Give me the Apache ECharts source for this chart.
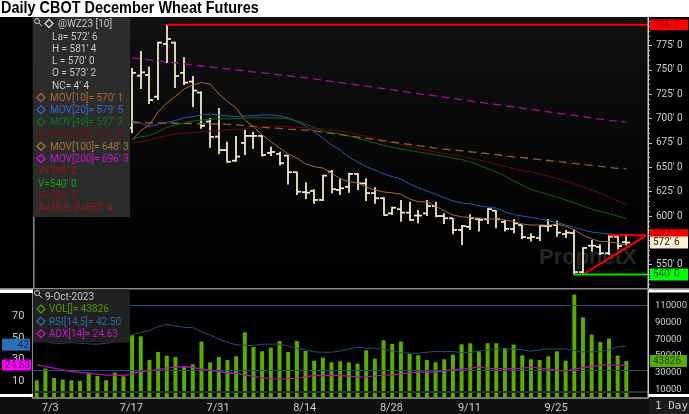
<!DOCTYPE html>
<html>
<head>
<meta charset="utf-8">
<script src="https://cdn.jsdelivr.net/npm/echarts@6/dist/echarts.min.js"></script>
<style>
*{margin:0;padding:0}
html,body{background:#000}
#main{width:689px;height:414px}
</style>
</head>
<body>
<div id="main"></div>
<script>
var dates = ['7/3','7/5','7/6','7/7','7/10','7/11','7/12','7/13','7/14',
  '7/17','7/18','7/19','7/20','7/21','7/24','7/25','7/26','7/27','7/28',
  '7/31','8/1','8/2','8/3','8/4','8/7','8/8','8/9','8/10','8/11',
  '8/14','8/15','8/16','8/17','8/18','8/21','8/22','8/23','8/24','8/25',
  '8/28','8/29','8/30','8/31','9/1','9/5','9/6','9/7','9/8',
  '9/11','9/12','9/13','9/14','9/15','9/18','9/19','9/20','9/21','9/22',
  '9/25','9/26','9/27','9/28','9/29','10/2','10/3','10/4','10/5','10/6','10/9'];
var dateTicks = ['7/3','7/17','7/31','8/14','8/28','9/11','9/25'];

// price bars, the first 11 sessions sit behind the study panel and cannot be read
var opens = [690.5,744,744.75,722.5,776.75,778,747,738,726.75,697,681.5,667.75,656.75,675,682.25,682.25,664.75,663.75,662,645,
  624.5,625.75,616.5,645.5,626.75,630,643.25,633.5,623.5,618.25,602.75,607,603.5,600.5,602.75,610.25,600,597.75,585.75,589,
  597,596.75,605.5,594,586.75,590.75,577.5,577.5,589.75,590.75,581.5,582.5,542.5,569.5,568.25,561.75,578.75,573.25];
var highs = [752,769.5,753.5,779,796.25,779,763,743.75,727.75,700.75,711,676.25,682.25,688.5,686.5,683.25,671,666,662.75,645.5,
  634.75,627.5,642.25,647.25,638.75,644.5,644,638.75,629.5,619.25,609.5,616.5,614.75,606.25,616.5,614.75,602.75,597.75,590.75,601.75,
  597.75,608,606.25,596,597,590.75,582.25,590.75,597,595.25,585.75,586.5,568,575.5,571,580.5,580.5,581.5];
var lows = [685.25,730.5,715,719,757,731.5,734.5,712,689.5,670,663.75,654.75,655.75,662.75,669,661,661.75,651.75,632.5,621.5,
  617.5,612.5,615.5,623.5,621.5,624,626.75,615.5,612.5,600.5,601,594.25,595.25,592.5,600,598.75,591.75,581.25,570.25,585.75,
  584,591.75,587.5,584,582.25,576.5,573.75,574.5,584,578.75,577.5,540,540.5,563.5,560,560,566,570];
var closes = [747,747.5,719,778,781.75,743.75,737,728.75,692.5,681.25,667.75,655.75,661,682.25,682.25,662.75,665.75,654.25,645,625,
  624,616.5,641.5,627.5,628.5,643.25,633.5,623.5,618.25,601,608.5,603.5,596,600.5,610.25,600,597.75,585.75,589.75,597.75,
  596,607,596.75,586.75,592.5,578.5,578.5,590,589.75,583,583,542.5,567.25,569.5,561.75,578.75,569.25,572.75];

var mov10 = [678,687.75,693.5,707,716,723,730.5,734.5,737,735.5,725.25,717.5,711,698.5,691.75,683.25,676.25,670,663.75,659.5,
  653.5,650.75,649.25,644.25,638,635.25,634,629.75,626.75,624.75,623.75,622.5,617.5,614.75,614.5,610.25,605.25,601,599.25,598.25,
  598,597,597,596,594.25,591.75,590.75,590.75,590.75,591.75,589.75,585.75,580.5,576.5,573.75,573.75,572.25,570.1];
var mov20 = [698,695.5,691.75,694.5,696,698,700.75,702,703.75,704.5,703.5,702.75,702,702.75,703,703.75,703.75,702.75,700.75,697,
  692.5,686.5,680,673,667.75,660.5,655.5,650.75,647.25,643.25,640.5,638,633,629,625.75,622.5,618.75,615.5,613.5,612.5,
  610.5,609.25,608.25,604.25,601.5,600,598.5,597,595,593.5,590.75,588.25,585.75,583.5,582.5,581.5,580.5,579.6];
var mov40 = [678.75,681.5,682.5,686.5,691,693.5,695.25,697.5,698.5,699.25,699.75,699.75,700,700.5,700.75,701,700.75,700.5,699.75,697.5,
  694.5,691,687.25,685.75,684.25,682.25,680,677.5,675,672.5,670.5,669,667.25,665.75,664.25,662.75,661.25,659.5,658,655.5,
  652.5,648.75,645.25,641,636,631.5,627.25,624.75,622,619.5,616.5,613.5,610.25,607.25,604.75,602.5,600,597.25];
var mov50 = [675.25,676.25,678,681,682.5,684.25,685,685.5,686.25,687.25,687.5,688.5,689,689.75,690.75,691,691.75,691.75,691.75,691,
  690.75,690,689.5,688.5,687.25,685.75,683.75,681.75,679.5,677.5,675.5,673.5,671.5,669.5,667.25,665.75,664.25,662.75,661.25,659,
  657.5,655.5,653,651,648.75,646.75,645.25,643.25,641,638.5,636,633,629.75,626.75,623.75,619.5,615.5,611.75];
var mov100 = [695.75,695.75,695.5,695.5,695.25,695.25,695,695,694.75,694.5,694.5,694,693.5,692.75,692,691.25,690.5,690,689.25,688.75,
  688.25,687.75,686,684.75,683.5,682.25,681,679.75,678.5,677.25,676,674.75,673.5,672.25,671,669.75,668.75,667.75,667,666,
  665,664,663,661.75,660.75,660,659,658,657,656,655,654,653,652,651,649.75,649,648.375];
var mov200 = [762.25,761.25,760.25,759.25,758.25,757.25,756.25,755,754,753,752,751,750,749,748,747,746,745,744,743,
  742,740.75,739.5,738.25,737,735.75,734.5,733.25,732,730.75,729.5,728.25,727,725.75,724.5,723.25,722,720.75,719.5,718.25,
  717,715.75,714.5,713.25,712,710.75,709.5,708.25,707,705.75,704.5,703.25,702,700.75,699.5,698.25,697.25,696.375];

var volume = [20800,34800,23600,21600,20800,20000,30000,26000,20800,30000,25600,74800,73600,45200,54800,50400,48800,37600,40000,67200,
  42400,48800,45200,49600,78400,60800,55600,60000,68000,54800,68000,56000,44400,48000,42400,43600,42400,40800,56800,46800,
  68800,64400,67200,52400,50800,45200,42400,46000,51600,64000,65200,55600,65200,65200,59600,63600,50800,46000,45200,49600,
  55600,44400,123600,96400,75600,66800,70800,50400,43826];
var rsi = [48.3,46.7,45.2,45.2,45.8,45.2,44.6,44.3,45.2,46.7,46.7,52.9,55.3,56.6,60.6,62.7,61.2,59.9,59.6,55.9,
  52.9,48.9,46.1,43.7,43.3,43,44.3,44.3,44.3,42.7,40.6,39,37.2,36.9,36.9,38.1,40,41.5,40.6,40.6,
  39.4,38.1,36.6,36,36,36.9,37.5,37.5,37.5,36.6,36.6,38.1,39,40,40,40,39,37.8,39,40,
  39.7,40,38.4,37.2,37.2,37.5,39,41.8,42.5];
var adx = [25.2,23.7,22.2,20.6,19.1,18.2,17.5,16.6,15.7,15.7,15.4,16.9,19.1,19.7,20.9,22.2,23.1,23.7,22.8,21.2,
  20.3,19.1,17.5,17.5,16,14.5,13.2,12.6,12.3,12.3,12.9,14.2,15.4,15.4,15.4,15.4,14.8,13.9,14.2,14.8,
  15.7,16,16.9,17.8,18.5,18.5,18.5,20,20.6,21.2,22.2,23.1,22.2,21.8,21.8,21.8,22.2,23.1,22.2,21.2,
  20.3,19.4,21.2,22.8,23.7,24.9,24.9,24.9,24.63];

// drawn study lines, [session index, price]
var highLine = [[15,796.25],[70.5,796.25]];
var lowLine = [[62,540],[70.5,540]];
var channelTop = [[66,580.25],[70.3,580.25]];
var channelSide = [[63,540],[70.3,580.25]];

var titleText = 'Daily CBOT December Wheat Futures';
var quoteRows = ["La= 572' 6","H = 581' 4","L = 570' 0","O = 573' 2","NC= 4' 4"];
var movRows = [
  ["MOV[10]= 570' 1",'#a9683a'],
  ["MOV[20]= 579' 5",'#3a64c8'],
  ["MOV[40]= 597' 2",'#10761a'],
  ["MOV[50]= 611' 6",'#701010'],
  ["MOV[100]= 648' 3",'#a9743a'],
  ["MOV[200]= 696' 3",'#d010d0']
];
var lineRows = [
  ["V=796' 2",'#a01212'],
  ["V=540' 0",'#12a012'],
  ["V=580' 2",'#8a1212'],
  ["A=30.5, V=567' 4",'#a01212']
];
var studyRows = [
  ['VOL[]= 43826','#4f9a08'],
  ['RSI[14,5]= 42.50','#2a6aa8'],
  ['ADX[14]= 24.63','#d010d0']
];

var FONT = '11.5px Roboto, sans-serif';
var BAR_COLOR = '#f2e9c9';

function pad(arr) {
  return Array(dates.length - arr.length).fill(null).concat(arr);
}

var barData = [];
pad(opens).forEach(function (o, i) {
  if (o !== null) barData.push([i, o, pad(highs)[i], pad(lows)[i], pad(closes)[i]]);
});

function renderBar(params, api) {
  var x = Math.round(api.coord([api.value(0), 0])[0]);
  var o = api.coord([0, api.value(1)])[1];
  var h = api.coord([0, api.value(2)])[1];
  var l = api.coord([0, api.value(3)])[1];
  var c = api.coord([0, api.value(4)])[1];
  var st = { stroke: BAR_COLOR, lineWidth: 1.8 };
  return {
    type: 'group',
    children: [
      { type: 'line', shape: { x1: x, y1: h, x2: x, y2: l }, style: st },
      { type: 'line', shape: { x1: x - 4, y1: o, x2: x, y2: o }, style: st },
      { type: 'line', shape: { x1: x, y1: c, x2: x + 4, y2: c }, style: st }
    ]
  };
}

function ma(name, data, color, dashed) {
  return {
    name: name, type: 'line', xAxisIndex: 0, yAxisIndex: 0, data: pad(data),
    showSymbol: false, silent: true, z: 4,
    lineStyle: { color: color, width: dashed ? 1.3 : 1, type: dashed ? [8, 5] : 'solid' }
  };
}

function drawn(data, color) {
  return {
    type: 'line', xAxisIndex: 1, yAxisIndex: 0, data: data, showSymbol: false, silent: true, z: 6,
    lineStyle: { color: color, width: 2 }
  };
}

function txt(x, y, s, color) {
  return {
    type: 'text', x: x, y: y, z: 40, scaleX: 0.87,
    style: { text: s, fill: color, font: FONT, verticalAlign: 'middle' }
  };
}

function diamond(x, y, color) {
  return {
    type: 'polygon', z: 40,
    shape: { points: [[x - 4, y], [x, y - 4], [x + 4, y], [x, y + 4]] },
    style: { fill: 'none', stroke: color, lineWidth: 1.3 }
  };
}

function lens(x, y) {
  return [
    { type: 'circle', z: 40, shape: { cx: x, cy: y, r: 2.5 }, style: { fill: 'none', stroke: '#ccc', lineWidth: 1 } },
    { type: 'line', z: 40, shape: { x1: x + 2, y1: y + 2, x2: x + 5, y2: y + 5 }, style: { stroke: '#ccc', lineWidth: 1 } }
  ];
}

function rect(x, y, w, h, fill, z, opacity) {
  return { type: 'rect', z: z, shape: { x: x, y: y, width: w, height: h }, style: { fill: fill, opacity: opacity === undefined ? 1 : opacity } };
}

function buildPanels() {
  var g = [];
  g.push({
    type: 'rect', z: -10, shape: { x: 32, y: 17, width: 616, height: 272 },
    style: { fill: new echarts.graphic.LinearGradient(0, 0, 0, 1, [{ offset: 0, color: '#111111' }, { offset: 0.6, color: '#050505' }, { offset: 1, color: '#000000' }]) }
  });
  g.push(rect(0, 0, 689, 17, '#ffffff', 50));
  g.push({
    type: 'text', x: 1, y: 8, z: 51, scaleX: 0.85,
    style: { text: titleText, fill: '#000', font: 'bold 17px "Liberation Sans", sans-serif', verticalAlign: 'middle' }
  });

  // frame lines
  g.push(rect(33, 217, 1.5, 72, '#8a8a8a', 30));
  g.push(rect(647.5, 17, 1.5, 380, '#c8c8c8', 30));
  g.push(rect(0, 288, 689, 1.5, '#8a8a8a', 30));
  g.push(rect(0, 289.5, 33, 3.5, '#ffffff', 30));
  g.push(rect(649, 289.5, 40, 3, '#ffffff', 30));
  g.push(rect(0, 394, 33, 3, '#ffffff', 30));
  g.push(rect(649, 394, 40, 3, '#ffffff', 30));
  g.push(rect(0, 397, 689, 17, '#0f0f0f', -5));
  g.push(rect(649, 398, 40, 16, '#1c1c1c', 30));
  g.push({
    type: 'text', x: 655, y: 406, z: 40,
    style: { text: '1 Day', fill: '#ccc', font: '11px "DejaVu Sans Mono", monospace', verticalAlign: 'middle' }
  });

  // watermark
  g.push({
    type: 'text', x: 539, y: 258, z: 1,
    style: { text: 'ProphetX', fill: '#262626', font: 'bold 22px "Liberation Sans", sans-serif', verticalAlign: 'middle' }
  });
  g.push({
    type: 'text', x: 590, y: 271, z: 1,
    style: { text: 'Powered by DTN', fill: '#262626', font: '6px "Liberation Sans", sans-serif', verticalAlign: 'middle' }
  });

  // upper study panel
  g.push(rect(33, 17, 97, 200, '#2c2c2c', 35));
  g = g.concat(lens(37, 21));
  g.push(diamond(49, 23.5, '#d8d8d8'));
  g.push(txt(58, 24, '@WZ23 [10]', '#c8c8c8'));
  quoteRows.forEach(function (s, i) {
    g.push(txt(52, 37 + i * 12.2, s, '#c8c8c8'));
  });
  movRows.forEach(function (r, i) {
    g.push(diamond(41, 97.5 + i * 12.2, r[1]));
    g.push(txt(50, 98 + i * 12.2, r[0], r[1]));
  });
  lineRows.forEach(function (r, i) {
    g.push(txt(38, 171.5 + i * 12.3, r[0], r[1]));
  });

  // lower study panel
  g.push(rect(33, 289.5, 97, 53, '#232323', 35, 0.95));
  g = g.concat(lens(37, 293));
  g.push(txt(45, 297, '9-Oct-2023', '#c8c8c8'));
  studyRows.forEach(function (r, i) {
    g.push(diamond(41, 309 + i * 12.3, r[1]));
    g.push(txt(49, 309.5 + i * 12.3, r[0], r[1]));
  });
  return g;
}

function tag(x, yMid, w, h, fill, s, color, align) {
  return {
    type: 'group', z: 45,
    children: [
      { type: 'rect', z: 45, shape: { x: x, y: yMid - h / 2, width: w, height: h }, style: { fill: fill } },
      {
        type: 'text', z: 46, x: align === 'right' ? x + w - 1 : x + 3, y: yMid, scaleX: 0.87,
        style: { text: s, fill: color, font: FONT, verticalAlign: 'middle', align: align || 'left' }
      }
    ]
  };
}

var myChart = echarts.init(document.getElementById('main'), null, { renderer: 'canvas' });

var axisFont = { color: '#cfcfcf', fontFamily: 'Roboto', fontSize: 10 };

var option = {
  backgroundColor: '#000000',
  animation: false,
  graphic: { elements: buildPanels() },
  grid: [
    { left: 32.4, width: 615.6, top: 21.2, height: 267.9, outerBoundsMode: 'none' },
    { left: 32.4, width: 615.6, top: 289.3, height: 108.3, outerBoundsMode: 'none' }
  ],
  xAxis: [
    { type: 'category', gridIndex: 0, data: dates.concat(['', '']), show: false },
    { type: 'value', gridIndex: 0, min: -0.5, max: 70.5, show: false },
    {
      type: 'category', gridIndex: 1, data: dates.concat(['', '']),
      axisLine: { lineStyle: { color: '#9a9a9a', width: 1.5 } },
      axisTick: { alignWithLabel: true, length: 2, lineStyle: { color: '#777' }, interval: 0 },
      axisLabel: Object.assign({}, axisFont, {
        fontSize: 11, align: 'left', margin: 5, padding: [0, 0, 0, 5],
        interval: function (i, v) { return dateTicks.indexOf(v) >= 0; }
      })
    },
    {
      type: 'category', gridIndex: 1, position: 'bottom', data: dates.concat(['', '']),
      axisLine: { show: false },
      axisLabel: { show: false },
      axisTick: {
        alignWithLabel: true, length: 17, lineStyle: { color: '#8a8a8a', width: 1.5 },
        interval: function (i, v) { return dateTicks.indexOf(v) >= 0; }
      }
    }
  ],
  yAxis: [
    {
      type: 'value', gridIndex: 0, position: 'right', min: 525, max: 800, interval: 25,
      splitLine: { show: false },
      axisLine: { show: true, onZero: false, lineStyle: { color: '#c8c8c8' } },
      axisTick: { length: 4, lineStyle: { color: '#c8c8c8' } },
      minorTick: { show: true, splitNumber: 5, length: 2, lineStyle: { color: '#aaa' } },
      axisLabel: Object.assign({}, axisFont, {
        margin: 8,
        formatter: function (v) { return (v >= 550 && v <= 775) ? v + "' 0" : ''; }
      })
    },
    {
      type: 'value', gridIndex: 1, position: 'right', min: 0, max: 130000, interval: 10000,
      splitLine: { show: false },
      axisLine: { show: true, lineStyle: { color: '#c8c8c8' } },
      axisTick: { length: 3, lineStyle: { color: '#aaa' } },
      axisLabel: Object.assign({}, axisFont, {
        margin: 7, fontSize: 9.5,
        formatter: function (v) { return (v / 10000) % 2 === 1 && v <= 110000 ? String(v) : ''; }
      })
    },
    {
      type: 'value', gridIndex: 1, position: 'left', min: -5, max: 95, interval: 5,
      splitLine: { show: false },
      axisLine: { show: true, lineStyle: { color: '#8a8a8a' } },
      axisTick: { show: false },
      axisLabel: Object.assign({}, axisFont, {
        margin: 8, fontSize: 11,
        formatter: function (v) { return [10, 30, 50, 70].indexOf(v) >= 0 ? String(v) : ''; }
      })
    }
  ],
  series: [
    {
      type: 'custom', xAxisIndex: 0, yAxisIndex: 0, data: barData, renderItem: renderBar, z: 3,
      encode: { x: 0, y: [1, 2, 3, 4] }, silent: true
    },
    ma('MOV10', mov10, '#a5693a'),
    ma('MOV20', mov20, '#2a55b0'),
    ma('MOV40', mov40, '#0c6410'),
    ma('MOV50', mov50, '#640a0a'),
    ma('MOV100', mov100, '#8f5c32', true),
    ma('MOV200', mov200, '#a010a0', true),
    drawn(highLine, '#ff0000'),
    drawn(channelTop, '#ff0000'),
    drawn(channelSide, '#ff0000'),
    drawn(lowLine, '#00e000'),
    {
      type: 'bar', xAxisIndex: 2, yAxisIndex: 1, data: volume, barWidth: 4, silent: true, z: 2,
      itemStyle: { color: '#5aac00' }
    },
    {
      type: 'line', xAxisIndex: 2, yAxisIndex: 2, data: rsi, showSymbol: false, silent: true, z: 4,
      lineStyle: { color: '#1f4f78', width: 1 },
      markLine: {
        silent: true, symbol: 'none', label: { show: false },
        data: [
          { yAxis: 80, lineStyle: { color: '#1f4f78', width: 1.2, type: 'solid' } },
          { yAxis: 20, lineStyle: { color: '#1f4f78', width: 1.2, type: 'solid' } },
          { yAxis: 0, lineStyle: { color: '#2e2e2e', width: 2, type: 'solid' } }
        ]
      }
    },
    {
      type: 'line', xAxisIndex: 2, yAxisIndex: 2, data: adx, showSymbol: false, silent: true, z: 5,
      lineStyle: { color: '#b010b0', width: 1.3 }
    }
  ]
};
myChart.setOption(option);

// value tags sit on the axes at the value they report
function py(v) { return myChart.convertToPixel({ yAxisIndex: 0 }, v); }
function vy(v) { return myChart.convertToPixel({ yAxisIndex: 1 }, v); }
function ry(v) { return myChart.convertToPixel({ yAxisIndex: 2 }, v); }

myChart.setOption({
  graphic: {
    elements: buildPanels().concat([
      tag(650, py(796.25), 38, 11, '#ff0000', "796' 2", '#8a0000'),
      tag(650, py(580.25) - 2, 38, 8, '#ff0000', "580' 2", '#8a0000'),
      tag(650, py(572.75), 38, 12, '#fdf1d2', "572' 6", '#222'),
      tag(650, py(540), 38, 12, '#00ff00', "540' 0", '#0a5a0a'),
      tag(650, vy(43826), 37, 12, '#5aac00', '43826', '#1c3a00'),
      tag(2, ry(42.5) - 1.5, 28, 12, '#2a72b8', '42', '#0c2a48', 'right'),
      tag(2, ry(24.63) - 0.5, 29, 11, '#ff00ff', '24.63', '#5a005a', 'right')
    ])
  }
}, { replaceMerge: ['graphic'] });
</script>
</body>
</html>
